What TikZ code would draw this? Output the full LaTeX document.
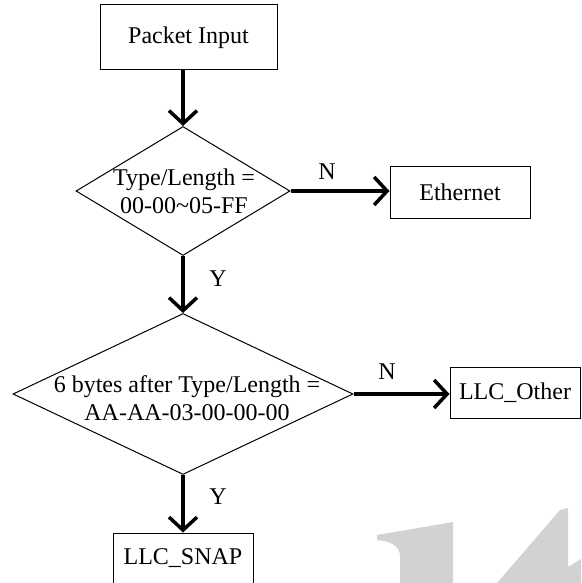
\documentclass[tikz,border=0pt]{standalone}
\usepackage{fontspec}
\setmainfont{Liberation Serif}
\usetikzlibrary{shapes.geometric,arrows.meta}
\begin{document}
\begin{tikzpicture}[x=1pt,y=-1pt,
  every node/.style={font=\fontsize{24}{28}\selectfont},
  procbox/.style={draw=black, rectangle, line width=1pt, inner sep=0pt},
  decision/.style={draw=black, diamond, line width=1pt, inner sep=0pt},
  flow/.style={line width=3.5pt, -{Straight Barb[length=13pt,width=28pt]}},
  lbl/.style={inner sep=0pt},
  mark4/.style={fill=gray!35, draw=none}
]
\useasboundingbox (0,0) rectangle (581,583);
\clip (0,0) rectangle (581,583);

% light grey "14" in the lower right corner
\path[mark4] (377,535) -- (453,522) -- (453,583) -- (400,583) -- (400,556)
  .. controls (400,546) and (390,541) .. (377,540) -- cycle;
\path[mark4] (497,583) -- (560,510) -- (568,508) -- (568,567) -- (581,559)
  -- (581,583) -- cycle;

% process boxes
\node[procbox, minimum width=177pt, minimum height=65pt] (pkt) at (188.5,37.5) {Packet Input};
\node[procbox, minimum width=140pt, minimum height=52pt] (eth) at (460,192) {Ethernet};
\node[procbox, minimum width=130pt, minimum height=51pt] (oth) at (515,392.5) {LLC\_Other};
\node[procbox, minimum width=140pt, minimum height=51pt] (snap) at (183,558.5) {LLC\_SNAP};

% decisions
\node[decision, minimum width=214pt, minimum height=129pt] (d1) at (183,191) {};
\node[lbl, align=center] (t1) at (184,191) {Type/Length =\\00-00\textasciitilde05-FF};
\node[decision, minimum width=340pt, minimum height=161pt] (d2) at (183,394) {};
\node[lbl, align=center] (t2) at (187,398) {6 bytes after Type/Length =\\AA-AA-03-00-00-00};

% connectors
\draw[flow] (pkt.south -| d1.north) -- (d1.north);
\draw[flow] (d1.east) -- (eth.west |- d1.east);
\draw[flow] (d1.south) -- (d2.north);
\draw[flow] (d2.east) -- (oth.west |- d2.east);
\draw[flow] (d2.south) -- (snap.north);

% branch labels
\node[lbl] (n1) at (327,172) {N};
\node[lbl] (y1) at (218,279) {Y};
\node[lbl] (n2) at (387,372) {N};
\node[lbl] (y2) at (218,497) {Y};
\end{tikzpicture}
\end{document}
